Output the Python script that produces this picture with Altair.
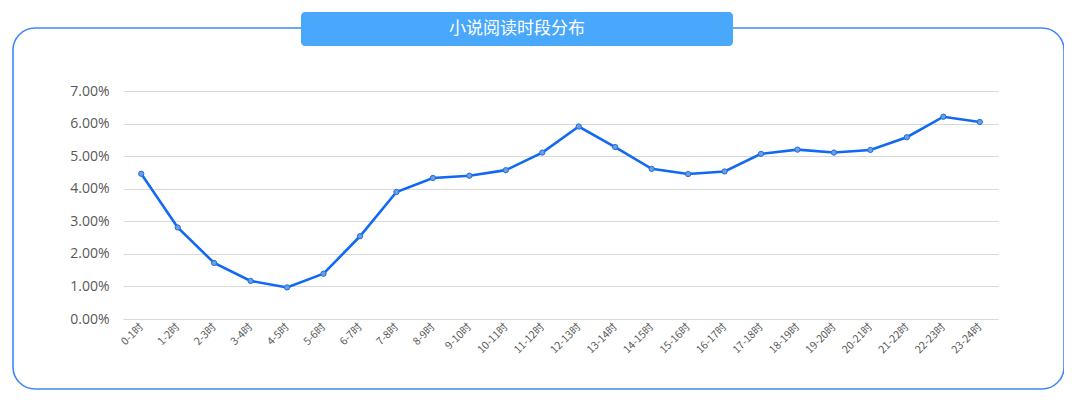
import altair as alt
import pandas as pd

hours = ["0-1时", "1-2时", "2-3时", "3-4时", "4-5时", "5-6时", "6-7时", "7-8时",
         "8-9时", "9-10时", "10-11时", "11-12时", "12-13时", "13-14时", "14-15时",
         "15-16时", "16-17时", "17-18时", "18-19时", "19-20时", "20-21时",
         "21-22时", "22-23时", "23-24时"]
share = [4.46, 2.81, 1.72, 1.17, 0.97, 1.39, 2.54, 3.90, 4.33, 4.40, 4.57, 5.11,
         5.91, 5.28, 4.61, 4.45, 4.53, 5.07, 5.20, 5.11, 5.19, 5.58, 6.21, 6.05]
title_text = "小说阅读时段分布"

df = pd.DataFrame({"hour": hours, "share": [v / 100 for v in share]})

W, H = 875, 228
FONT = "Noto Sans CJK SC"

xenc = alt.X("hour:N", sort=hours, title=None,
             scale=alt.Scale(type="point", padding=0.5),
             axis=alt.Axis(labelAngle=-45, labelFontSize=10.5, labelColor="#595959",
                           labelFont=FONT, ticks=False, domain=False, grid=False,
                           labelPadding=6, labelAlign="right", labelBaseline="middle"))
yenc = alt.Y("share:Q", title=None,
             scale=alt.Scale(domain=[0, 0.07], nice=False),
             axis=alt.Axis(format=".2%", values=[0, 0.01, 0.02, 0.03, 0.04, 0.05, 0.06, 0.07],
                           labelFontSize=14, labelColor="#595959", labelFont="Open Sans",
                           ticks=False, domain=False, gridColor="#d9d9d9",
                           gridWidth=1, labelPadding=14))

base = alt.Chart(df)
line = base.mark_line(color="#1169f2", strokeWidth=2.6).encode(x=xenc, y=yenc)
pts = base.mark_point(filled=True, size=28, fill="#6f9fd6", stroke="#1a6ef0",
                      strokeWidth=1, opacity=1).encode(x=xenc, y=yenc)

frame_df = pd.DataFrame({"k": [0]})
frame = alt.Chart(frame_df).mark_rect(fill="white", fillOpacity=0, stroke="#3f88f8",
                                      strokeWidth=1.6, cornerRadius=22).encode(
    x=alt.value(-110), x2=alt.value(941), y=alt.value(-63), y2=alt.value(298))
tbox = alt.Chart(frame_df).mark_rect(fill="#4aa8fc", cornerRadius=4).encode(
    x=alt.value(178), x2=alt.value(610), y=alt.value(-79), y2=alt.value(-45))
ttext = alt.Chart(frame_df).mark_text(text=title_text, color="white", fontSize=17,
                                      font=FONT, fontWeight=400, align="center",
                                      baseline="middle").encode(
    x=alt.value(394), y=alt.value(-62))

chart = alt.layer(frame, line, pts, tbox, ttext).properties(
    width=W, height=H,
    background="white",
    padding={"left": 115, "top": 83, "right": 66, "bottom": 82},
    autosize=alt.AutoSizeParams(type="none"),
).configure_view(strokeWidth=0, stroke="transparent")

chart.save("out.html", embed_options={"renderer": "svg", "actions": False})
